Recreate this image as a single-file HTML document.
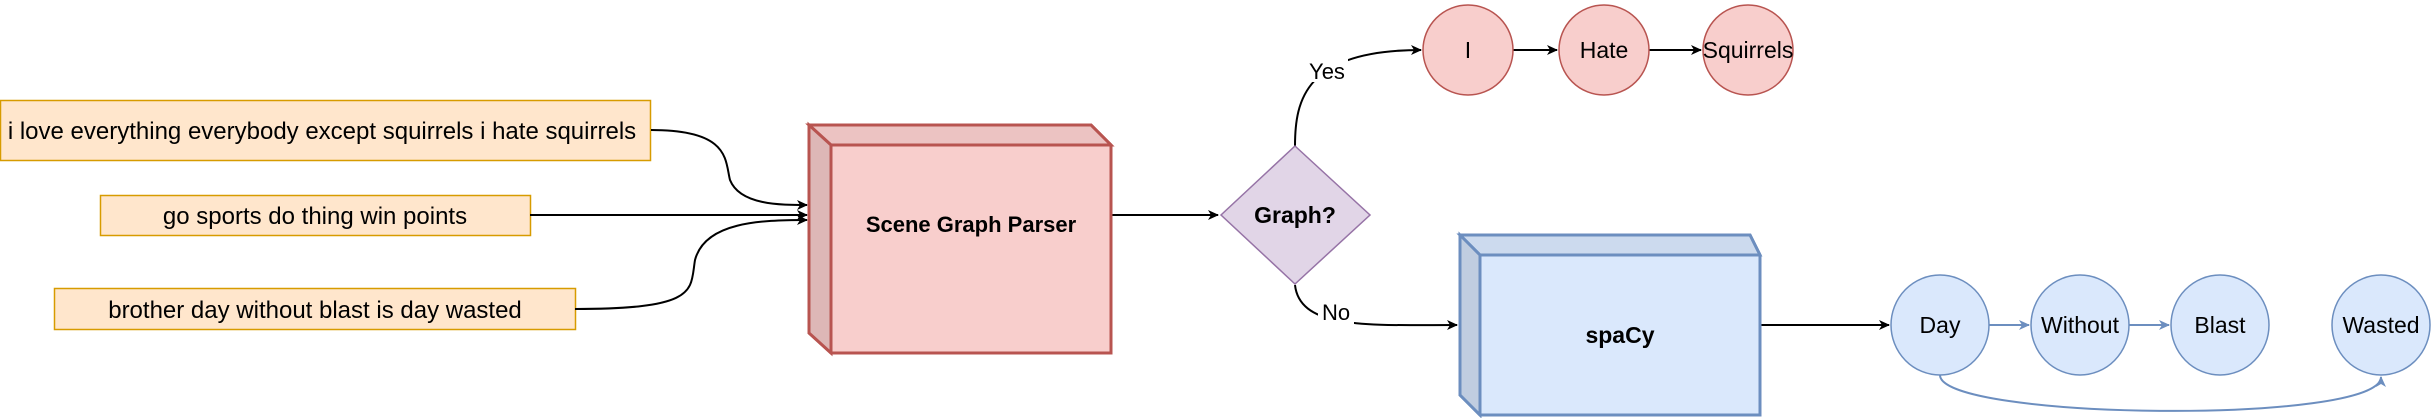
<!DOCTYPE html>
<html><head><style>html,body{margin:0;padding:0;background:#fff}svg{display:block}</style></head>
<body>
<svg width="2432" height="418" viewBox="0 0 2432 418" xmlns="http://www.w3.org/2000/svg" font-family="Liberation Sans, sans-serif">
<defs>
<marker id="ab" markerWidth="12" markerHeight="12" refX="10" refY="6" orient="auto" markerUnits="userSpaceOnUse"><path d="M0,1 L11,6 L0,11 L3,6 Z" fill="#000"/></marker>
<marker id="ablu" markerWidth="12" markerHeight="12" refX="10" refY="6" orient="auto" markerUnits="userSpaceOnUse"><path d="M0,1 L11,6 L0,11 L3,6 Z" fill="#6c8ebf"/></marker>
</defs>
<rect x="0.5" y="100.5" width="650" height="60" fill="#ffe6cc" stroke="#d79b00" stroke-width="1.5"/>
<text x="322" y="139" font-size="24" text-anchor="middle">i love everything everybody except squirrels i hate squirrels</text>
<rect x="100.5" y="195.5" width="430" height="40" fill="#ffe6cc" stroke="#d79b00" stroke-width="1.5"/>
<text x="315" y="224" font-size="24" text-anchor="middle">go sports do thing win points</text>
<rect x="54.5" y="288.5" width="521" height="41" fill="#ffe6cc" stroke="#d79b00" stroke-width="1.5"/>
<text x="315" y="318" font-size="24" text-anchor="middle">brother day without blast is day wasted</text>
<g fill="none" stroke="#000" stroke-width="2">
<path d="M651,130 C730,130 725,160 730,180 C740,205 780,205 807,205" marker-end="url(#ab)"/>
<path d="M530,215 L807,215" marker-end="url(#ab)"/>
<path d="M575,309 C700,309 690,290 695,260 C705,222 760,220 807,220" marker-end="url(#ab)"/>
<path d="M1111,215 L1218,215" marker-end="url(#ab)"/>
<path d="M1295,146 C1295,100 1305,50 1421,50" marker-end="url(#ab)"/>
<path d="M1295,285 C1300,330 1370,325 1457,325" marker-end="url(#ab)"/>
<path d="M1513,50 L1557,50" marker-end="url(#ab)"/>
<path d="M1649,50 L1701,50" marker-end="url(#ab)"/>
<path d="M1760,325 L1889,325" marker-end="url(#ab)"/>
</g>
<rect x="1306" y="56" width="42" height="26" fill="#fff"/>
<text x="1327" y="79" font-size="22" text-anchor="middle">Yes</text>
<rect x="1318" y="298" width="36" height="26" fill="#fff"/>
<text x="1336" y="320" font-size="22" text-anchor="middle">No</text>
<path d="M809,125 L1091,125 L1111,145 L1111,353 L831,353 L809,333 Z" fill="#f8cecc" stroke="#b85450" stroke-width="3"/>
<path d="M809,125 L1091,125 L1111,145 L831,145 Z" fill="#ecc3c2" stroke="#b85450" stroke-width="3"/>
<path d="M809,125 L831,145 L831,353 L809,333 Z" fill="#ddb7b6" stroke="#b85450" stroke-width="3"/>
<text x="971" y="232" font-size="22" font-weight="bold" text-anchor="middle">Scene Graph Parser</text>
<path d="M1295,146 L1370,215 L1295,284 L1221,215 Z" fill="#e1d5e7" stroke="#9673a6" stroke-width="1.5"/>
<text x="1295" y="223" font-size="23" font-weight="bold" text-anchor="middle">Graph?</text>
<path d="M1460,235 L1750,235 L1760,255 L1760,415 L1480,415 L1460,395 Z" fill="#dae8fc" stroke="#6c8ebf" stroke-width="3"/>
<path d="M1460,235 L1750,235 L1760,255 L1480,255 Z" fill="#ccdaee" stroke="#6c8ebf" stroke-width="3"/>
<path d="M1460,235 L1480,255 L1480,415 L1460,395 Z" fill="#c0cde0" stroke="#6c8ebf" stroke-width="3"/>
<text x="1620" y="343" font-size="23" font-weight="bold" text-anchor="middle">spaCy</text>
<g fill="#f8cecc" stroke="#b85450" stroke-width="1.5">
<circle cx="1468" cy="50" r="45"/><circle cx="1604" cy="50" r="45"/><circle cx="1748" cy="50" r="45"/>
</g>
<g font-size="23" text-anchor="middle">
<text x="1468" y="58">I</text><text x="1604" y="58">Hate</text><text x="1748" y="58">Squirrels</text>
</g>
<g fill="none" stroke="#6c8ebf" stroke-width="2">
<path d="M1989,325 L2029,325" marker-end="url(#ablu)"/>
<path d="M2128,325 L2169,325" marker-end="url(#ablu)"/>
<path d="M1940,375 C1940,420 2381,425 2381,377" marker-end="url(#ablu)"/>
</g>
<g fill="#dae8fc" stroke="#6c8ebf" stroke-width="1.5">
<ellipse cx="1940" cy="325" rx="49" ry="50"/><ellipse cx="2080" cy="325" rx="49" ry="50"/>
<ellipse cx="2220" cy="325" rx="49" ry="50"/><ellipse cx="2381" cy="325" rx="49" ry="50"/>
</g>
<g font-size="23" text-anchor="middle">
<text x="1940" y="333">Day</text><text x="2080" y="333">Without</text><text x="2220" y="333">Blast</text><text x="2381" y="333">Wasted</text>
</g>
</svg>
</body></html>
